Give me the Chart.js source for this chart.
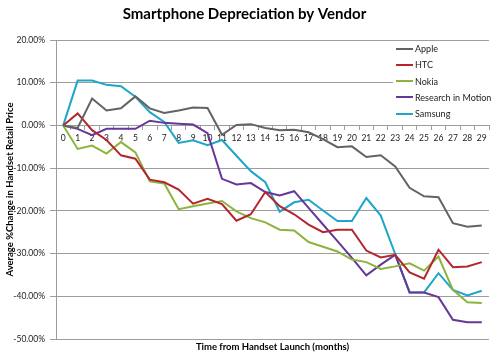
<!DOCTYPE html>
<html><head><meta charset="utf-8">
<script src="https://cdn.jsdelivr.net/npm/chart.js@4.4.1/dist/chart.umd.min.js"></script>
<style>
html,body{margin:0;padding:0;background:#fff;}
#wrap{position:relative;width:500px;height:356px;}
#legend{position:absolute;left:393px;top:41px;width:96px;height:80px;background:#fff;font-family:Lato,sans-serif;font-size:9px;color:#222;}
.item{position:absolute;left:3px;height:12px;display:flex;align-items:center;white-space:nowrap;}
.swatch{width:17px;height:2px;margin-right:2px;}
</style></head><body>
<div id="wrap"><canvas id="c" width="500" height="356"></canvas><div id="legend"></div></div>
<script>
const months = ['0','1','2','3','4','5','6','7','8','9','10','11','12','13','14','15','16','17','18','19','20','21','22','23','24','25','26','27','28','29'];
const seriesNames = ['Apple','HTC','Nokia','Research in Motion','Samsung'];
const seriesColors = ['#636363','#b3262e','#8cb43c','#66379a','#1fa5c8'];
const apple = [0,-0.6,6.3,3.5,4.0,6.8,4.0,2.9,3.5,4.2,4.1,-2.2,0.1,0.3,-0.6,-1.1,-1.0,-1.6,-3.2,-5.1,-4.9,-7.4,-7.0,-9.6,-14.6,-16.6,-16.8,-22.9,-23.7,-23.4];
const htc = [0,2.8,-1.1,-3.4,-7.0,-7.8,-12.7,-13.3,-15.0,-18.3,-17.2,-18.4,-22.3,-20.8,-15.6,-18.9,-20.8,-23.2,-25.0,-24.4,-24.4,-29.3,-30.9,-30.3,-34.4,-35.9,-29.1,-33.2,-33.0,-32.0];
const nokia = [0,-5.5,-4.7,-6.6,-3.9,-6.3,-13.1,-13.6,-19.6,-18.9,-18.3,-17.7,-20.1,-21.7,-22.7,-24.4,-24.6,-27.3,-28.4,-29.5,-31.4,-32.0,-33.6,-33.0,-32.3,-34.0,-30.7,-38.5,-41.4,-41.6];
const rim = [0,-0.8,-2.3,-0.8,-0.8,-0.8,1.1,0.6,0.4,0.2,-1.8,-12.5,-13.8,-13.5,-15.6,-16.4,-15.4,-19.3,-23.2,-27.1,-31.0,-35.1,-32.6,-30.3,-39.1,-39.1,-40.2,-45.5,-46.1,-46.1];
const samsung = [0,10.5,10.5,9.5,9.2,6.7,3.1,0.8,-4.1,-3.5,-4.6,-3.4,-7.1,-10.7,-13.3,-20.2,-18.0,-17.4,-19.9,-22.4,-22.4,-17.0,-21.1,-30.1,-39.1,-39.1,-34.6,-38.5,-39.8,-38.7];
const seriesValues = [apple, htc, nokia, rim, samsung];

const FONT = 'Lato, sans-serif';
const GRID = '#9d9d9d';

// HTML legend built from the series arrays
const legendEl = document.getElementById('legend');
seriesNames.forEach((name, i) => {
  const it = document.createElement('div');
  it.className = 'item';
  it.style.top = (1.7 + 16.25 * i) + 'px';
  const sw = document.createElement('span');
  sw.className = 'swatch';
  sw.style.background = seriesColors[i];
  const tx = document.createElement('span');
  tx.textContent = name;
  it.appendChild(sw); it.appendChild(tx);
  legendEl.appendChild(it);
});

new Chart(document.getElementById('c').getContext('2d'), {
  type: 'line',
  data: {
    labels: months,
    datasets: seriesNames.map((name, i) => ({
      label: name,
      data: seriesValues[i],
      borderColor: seriesColors[i],
      backgroundColor: seriesColors[i],
      borderWidth: 2,
      pointRadius: 0,
      tension: 0,
      fill: false
    }))
  },
  options: {
    responsive: false,
    animation: false,
    devicePixelRatio: 1,
    layout: { padding: { left: 0, right: 11, top: 0, bottom: 0 } },
    plugins: {
      legend: { display: false },
      tooltip: { enabled: false },
      title: {
        display: true,
        text: 'Smartphone Depreciation by Vendor',
        color: '#000',
        font: { family: FONT, size: 15, weight: 'bold' },
        padding: { top: 5, bottom: 17 }
      }
    },
    scales: {
      x: {
        type: 'category',
        position: { y: 0 },
        offset: true,
        grid: { drawOnChartArea: false, drawTicks: true, tickLength: 4, offset: true, color: GRID },
        border: { color: GRID, width: 1 },
        ticks: { font: { family: FONT, size: 8.5 }, color: '#222', padding: 4, autoSkip: false, maxRotation: 0 },
        afterFit(s) { s.height = 0; }
      },
      xt: {
        type: 'category',
        position: 'bottom',
        ticks: { display: false },
        grid: { display: false },
        border: { display: false },
        title: {
          display: true,
          text: 'Time from Handset Launch (months)',
          color: '#000',
          font: { family: FONT, size: 9.5, weight: 'bold' },
          padding: { top: 0, bottom: 3 }
        },
        afterFit(s) { s.height = 17; }
      },
      y: {
        min: -50,
        max: 20,
        ticks: {
          stepSize: 10,
          callback: v => v.toFixed(2) + '%',
          padding: 5,
          color: '#222',
          font: { family: FONT, size: 8.5 }
        },
        grid: { color: GRID, tickLength: 6 },
        border: { color: GRID, width: 1 },
        title: {
          display: true,
          text: 'Average %Change in Handset Retail Price',
          color: '#000',
          font: { family: FONT, size: 9.5, weight: 'bold' },
          padding: { top: 4, bottom: 0 }
        },
        afterFit(s) { s.width = 56; }
      }
    }
  }
});
</script>
</body></html>
